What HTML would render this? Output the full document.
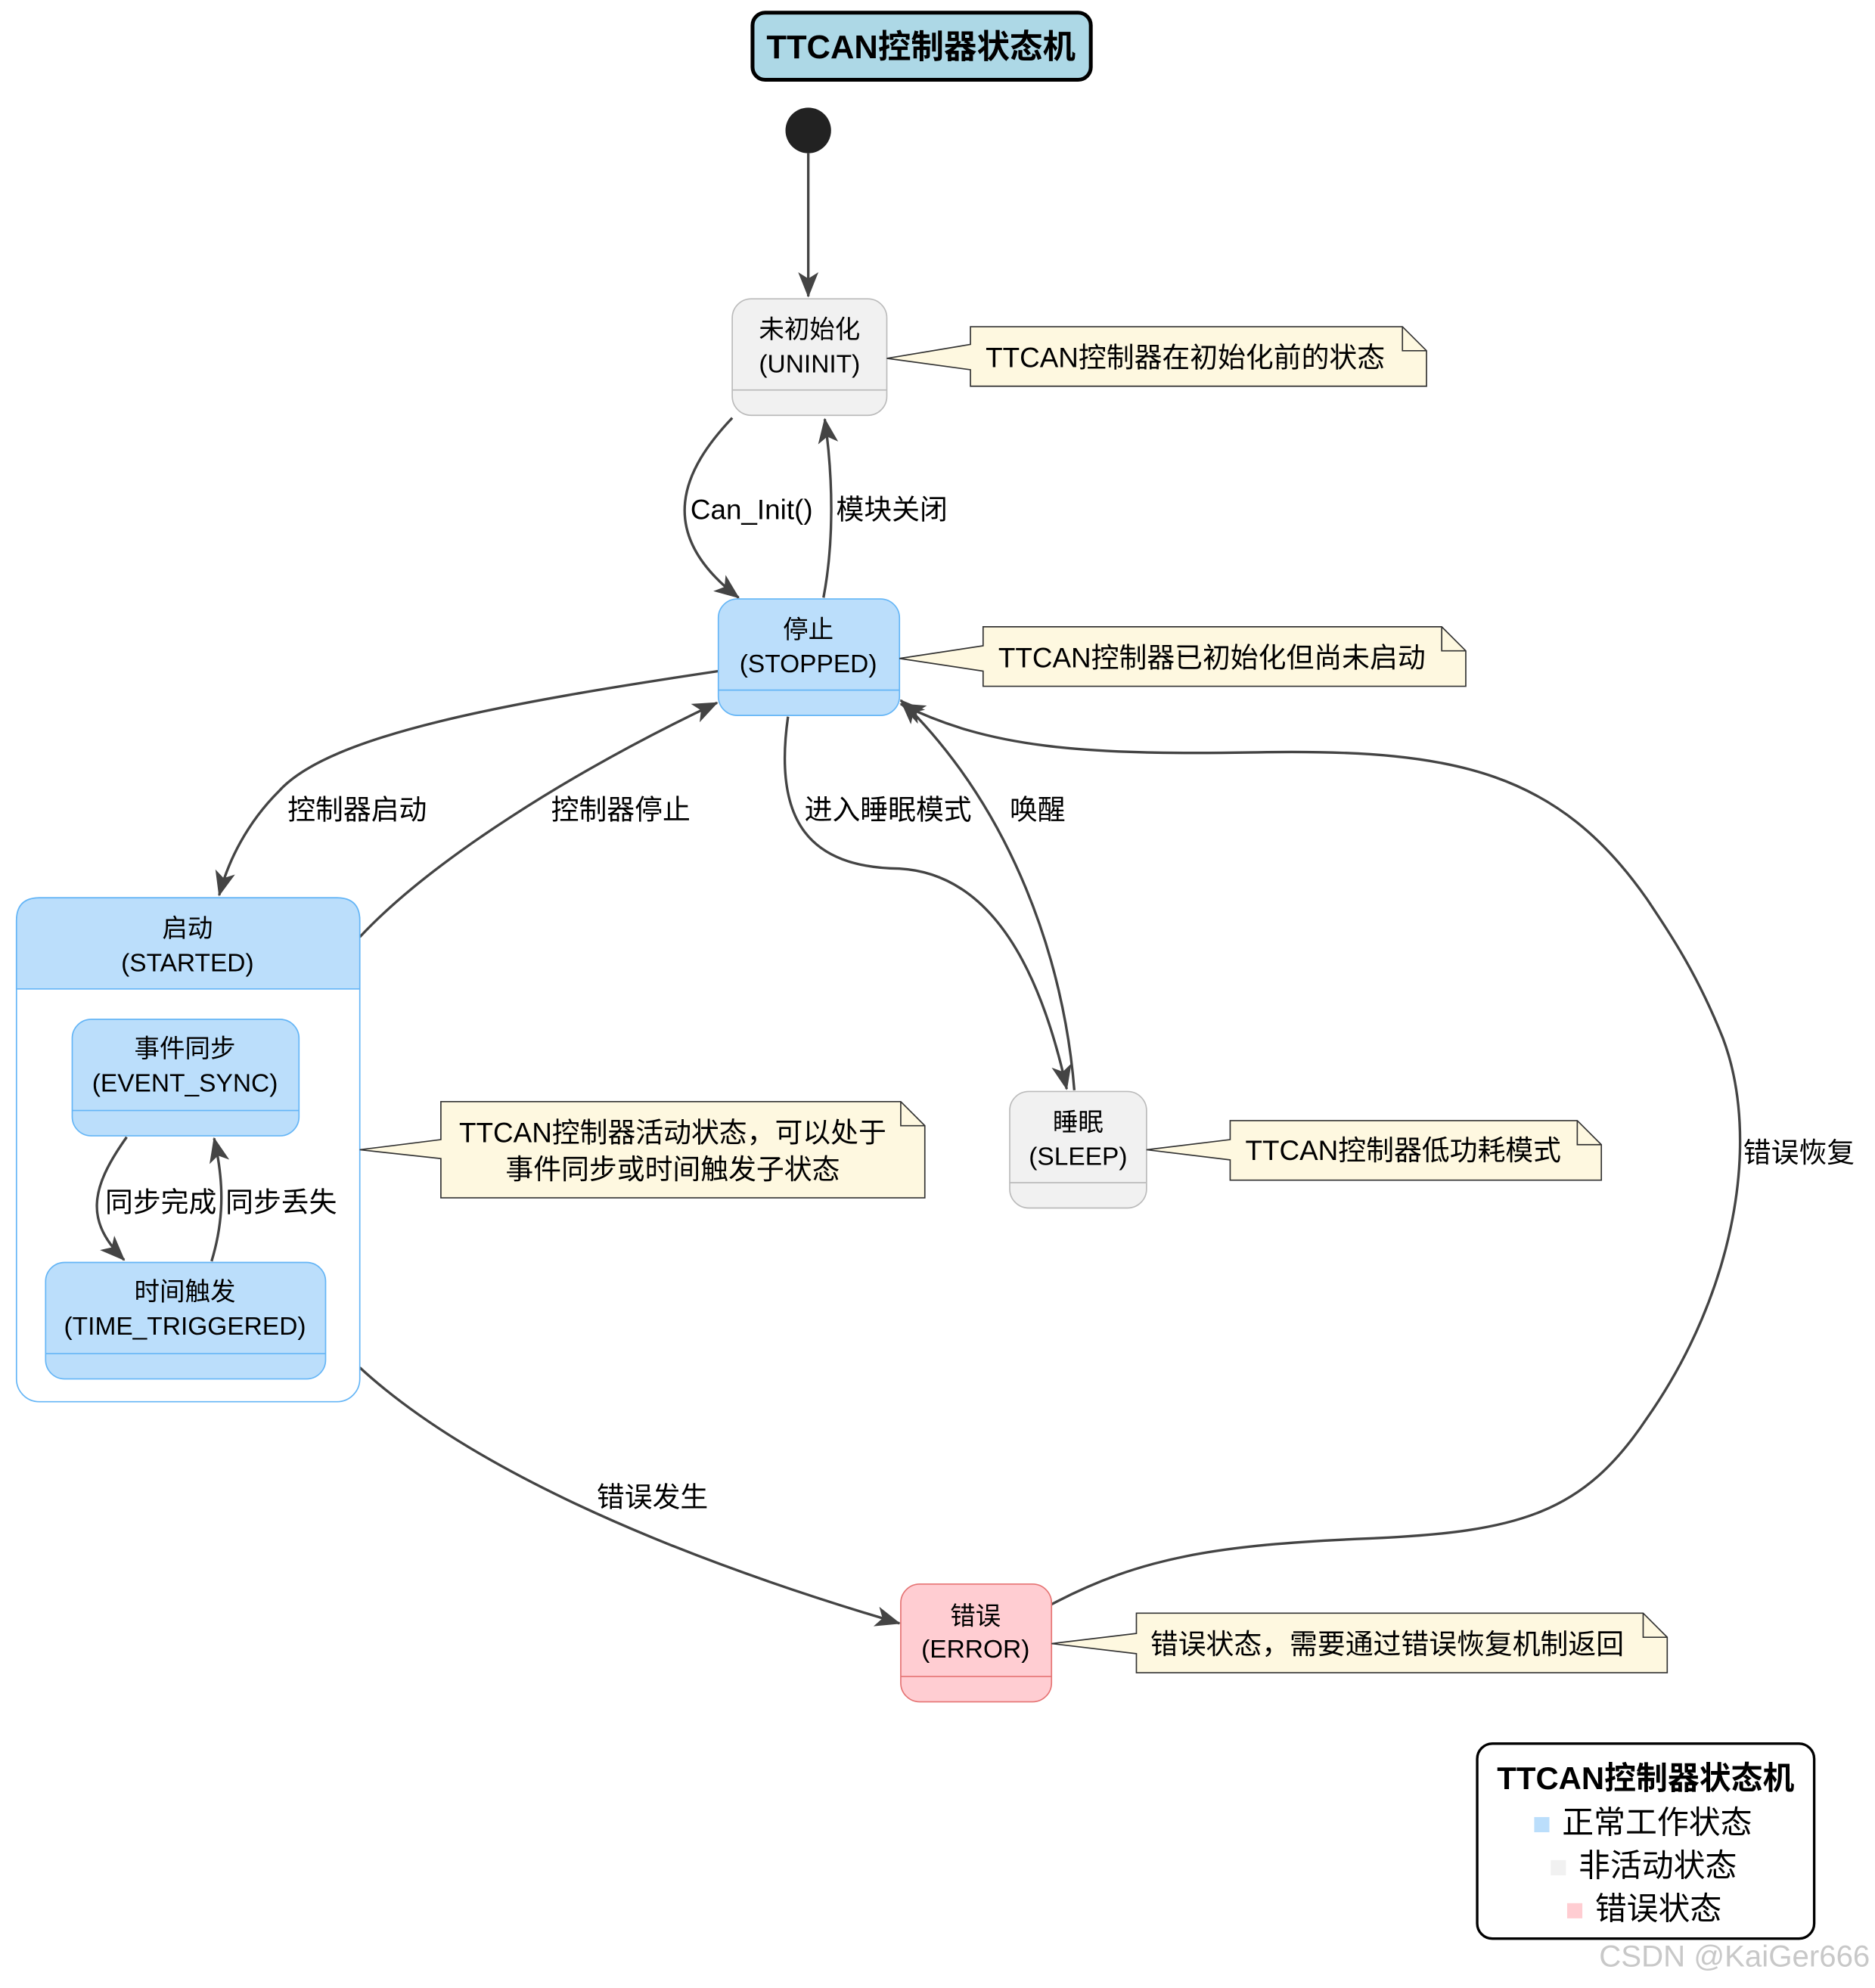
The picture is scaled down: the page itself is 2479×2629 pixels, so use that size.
<!DOCTYPE html>
<html><head><meta charset="utf-8">
<style>
html,body{margin:0;padding:0;background:#fff;}
svg{display:block;}
text{font-family:"Liberation Sans","Noto Sans CJK SC",sans-serif;}
</style></head>
<body>
<svg xmlns="http://www.w3.org/2000/svg" width="2479" height="2629" viewBox="0 0 1480 1570" preserveAspectRatio="none">
<defs>
<marker id="ah2" viewBox="0 0 20 20" refX="19" refY="10" markerWidth="20" markerHeight="20" orient="auto" markerUnits="userSpaceOnUse">
<path d="M0,2 L20,10 L0,18 L5,10 z" fill="#444"/>
</marker>
</defs>
<rect width="1480" height="1570" fill="#fff"/>

<rect x="594" y="10" width="267" height="53" rx="10" fill="#add8e6" stroke="#000" stroke-width="3"/>
<text x="727" y="46" font-size="26" font-weight="bold" text-anchor="middle">TTCAN控制器状态机</text>

<circle cx="638" cy="103" r="18" fill="#222"/>
<g fill="none" stroke="#444" stroke-width="2">
<path d="M638,121 L638,234" marker-end="url(#ah2)"/>
<path d="M578,330 C540,370 515,420 583,472" marker-end="url(#ah2)"/>
<path d="M650,472 C658,430 658,380 651,331" marker-end="url(#ah2)"/>
<path d="M567,530 C400,555 260,580 220,625 C195,650 180,680 173,707" marker-end="url(#ah2)"/>
<path d="M284,740 C340,680 450,610 566,555" marker-end="url(#ah2)"/>
<path d="M622,566 C610,650 640,685 710,686 C780,690 820,760 842,860" marker-end="url(#ah2)"/>
<path d="M848,861 C840,760 800,640 711,553" marker-end="url(#ah2)"/>
<path d="M284,1080 C360,1150 500,1220 710,1282" marker-end="url(#ah2)"/>
<path d="M830,1267 C900,1230 960,1220 1080,1215 C1200,1210 1250,1195 1300,1120 C1370,1020 1390,900 1360,820 C1340,770 1320,740 1300,710 C1230,610 1150,592 1000,594 C850,597 780,590 711,556" marker-end="url(#ah2)"/>
</g>

<rect x="578" y="236" width="122" height="92" rx="15" fill="#f1f1f1" stroke="#bbb"/>
<line x1="578" y1="308" x2="700" y2="308" stroke="#bbb"/>
<text x="639" y="267" font-size="20" text-anchor="middle">未初始化</text>
<text x="639" y="294" font-size="20" text-anchor="middle">(UNINIT)</text>

<rect x="567" y="473" width="143" height="92" rx="15" fill="#bbdefb" stroke="#64b5f6"/>
<line x1="567" y1="545" x2="710" y2="545" stroke="#64b5f6"/>
<text x="638" y="504" font-size="20" text-anchor="middle">停止</text>
<text x="638" y="531" font-size="20" text-anchor="middle">(STOPPED)</text>

<rect x="13" y="709" width="271" height="398" rx="18" fill="#fff" stroke="#64b5f6"/>
<path d="M13,781 L13,727 Q13,709 31,709 L266,709 Q284,709 284,727 L284,781 Z" fill="#bbdefb" stroke="#64b5f6"/>
<text x="148" y="740" font-size="20" text-anchor="middle">启动</text>
<text x="148" y="767" font-size="20" text-anchor="middle">(STARTED)</text>

<rect x="57" y="805" width="179" height="92" rx="15" fill="#bbdefb" stroke="#64b5f6"/>
<line x1="57" y1="877" x2="236" y2="877" stroke="#64b5f6"/>
<text x="146" y="835" font-size="20" text-anchor="middle">事件同步</text>
<text x="146" y="862" font-size="20" text-anchor="middle">(EVENT_SYNC)</text>

<rect x="36" y="997" width="221" height="92" rx="15" fill="#bbdefb" stroke="#64b5f6"/>
<line x1="36" y1="1069" x2="257" y2="1069" stroke="#64b5f6"/>
<text x="146" y="1027" font-size="20" text-anchor="middle">时间触发</text>
<text x="146" y="1054" font-size="20" text-anchor="middle">(TIME_TRIGGERED)</text>

<g fill="none" stroke="#444" stroke-width="2">
<path d="M100,898 C70,940 68,965 98,995" marker-end="url(#ah2)"/>
<path d="M167,996 C178,960 176,930 169,899" marker-end="url(#ah2)"/>
</g>

<rect x="797" y="862" width="108" height="92" rx="15" fill="#f1f1f1" stroke="#bbb"/>
<line x1="797" y1="934" x2="905" y2="934" stroke="#bbb"/>
<text x="851" y="893" font-size="20" text-anchor="middle">睡眠</text>
<text x="851" y="920" font-size="20" text-anchor="middle">(SLEEP)</text>

<rect x="711" y="1251" width="119" height="93" rx="15" fill="#ffcdd2" stroke="#e57373"/>
<line x1="711" y1="1324" x2="830" y2="1324" stroke="#e57373"/>
<text x="770" y="1283" font-size="20" text-anchor="middle">错误</text>
<text x="770" y="1309" font-size="20" text-anchor="middle">(ERROR)</text>

<g fill="#fef8e0" stroke="#333" stroke-width="1">
<path d="M766,258 L1107,258 L1126,277 L1126,305 L766,305 L766,292 L700,283 L766,272 Z"/>
<path d="M1107,258 L1107,277 L1126,277" fill="none"/>
<path d="M776,495 L1138,495 L1157,514 L1157,542 L776,542 L776,530 L710,520 L776,510 Z"/>
<path d="M1138,495 L1138,514 L1157,514" fill="none"/>
<path d="M348,870 L711,870 L730,889 L730,946 L348,946 L348,915 L284,908 L348,900 Z"/>
<path d="M711,870 L711,889 L730,889" fill="none"/>
<path d="M971,885 L1245,885 L1264,904 L1264,932 L971,932 L971,916 L905,908 L971,900 Z"/>
<path d="M1245,885 L1245,904 L1264,904" fill="none"/>
<path d="M897,1274 L1297,1274 L1316,1293 L1316,1321 L897,1321 L897,1306 L830,1298 L897,1290 Z"/>
<path d="M1297,1274 L1297,1293 L1316,1293" fill="none"/>
</g>
<g font-size="22">
<text x="778" y="290">TTCAN控制器在初始化前的状态</text>
<text x="788" y="527">TTCAN控制器已初始化但尚未启动</text>
<text x="531" y="902" text-anchor="middle">TTCAN控制器活动状态，可以处于</text>
<text x="531" y="931" text-anchor="middle">事件同步或时间触发子状态</text>
<text x="983" y="916">TTCAN控制器低功耗模式</text>
<text x="908" y="1306">错误状态，需要通过错误恢复机制返回</text>
</g>

<g font-size="22">
<text x="545" y="410">Can_Init()</text>
<text x="660" y="410">模块关闭</text>
<text x="227" y="647">控制器启动</text>
<text x="435" y="647">控制器停止</text>
<text x="635" y="647">进入睡眠模式</text>
<text x="797" y="647">唤醒</text>
<text x="83" y="957">同步完成</text>
<text x="178" y="957">同步丢失</text>
<text x="471" y="1190">错误发生</text>
<text x="1376" y="918">错误恢复</text>
</g>

<rect x="1166" y="1377" width="266" height="154" rx="12" fill="#fff" stroke="#000" stroke-width="2"/>
<text x="1299" y="1413" font-size="25" font-weight="bold" text-anchor="middle">TTCAN控制器状态机</text>
<rect x="1211" y="1435" width="12" height="12" fill="#bbdefb"/>
<text x="1233" y="1448" font-size="25">正常工作状态</text>
<rect x="1224" y="1469" width="12" height="12" fill="#f1f1f1"/>
<text x="1246" y="1482" font-size="25">非活动状态</text>
<rect x="1237" y="1503" width="12" height="12" fill="#ffcdd2"/>
<text x="1259" y="1516" font-size="25">错误状态</text>

<text x="1476" y="1553" font-size="24" fill="#c8c8c8" text-anchor="end">CSDN @KaiGer666</text>
</svg>
</body></html>
